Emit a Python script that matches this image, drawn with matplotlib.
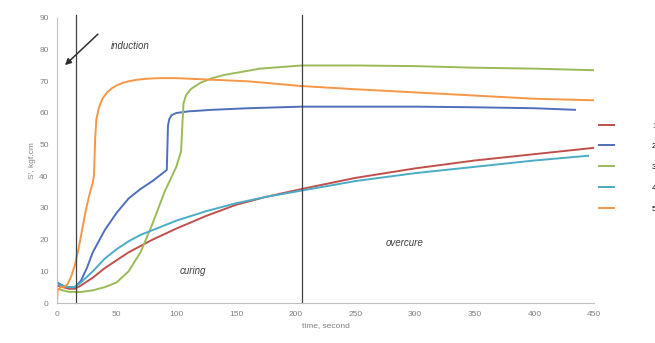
import matplotlib
matplotlib.use("Agg")
import matplotlib.pyplot as plt

plt.rcParams['font.family'] = ['Liberation Sans', 'DejaVu Sans']

# torque curves
red_x = [0, 5, 10, 15, 20, 30, 40, 50, 60, 70, 80, 100, 125, 150, 175, 205, 250, 300, 350, 400, 450]
red_y = [5.5, 5, 4.5, 4.5, 5.5, 8, 11, 13.5, 16, 18, 20, 23.5, 27.5, 31, 33.5, 36, 39.5, 42.5, 45, 47, 49]

blue_x = [0, 5, 10, 15, 20, 25, 30, 40, 50, 60, 70, 80, 92, 93, 94, 96, 100, 110, 130, 160, 205, 250, 300, 350, 400, 434]
blue_y = [6.5, 5.5, 5, 5, 7, 11, 16, 23, 28.5, 33, 36, 38.5, 42, 56, 58, 59.3, 60, 60.5, 61, 61.5, 62, 62, 62, 61.8, 61.5, 61]

green_x = [0, 5, 10, 15, 20, 30, 40, 50, 60, 70, 80, 90, 100, 104, 105, 106, 108, 112, 120, 130, 140, 155, 170, 205, 250, 300, 350, 400, 450]
green_y = [4.5, 4, 3.5, 3.5, 3.5, 4, 5, 6.5, 10, 16, 25, 35, 43, 48, 56, 63, 65.5, 67.5, 69.5, 71, 72, 73, 74, 75, 75, 74.8, 74.3, 74, 73.5]

cyan_x = [0, 5, 10, 15, 20, 30, 40, 50, 60, 70, 80, 100, 125, 150, 175, 205, 250, 300, 350, 400, 445]
cyan_y = [6, 5.5, 5, 5, 6.5, 10, 14, 17, 19.5, 21.5, 23, 26, 29, 31.5, 33.5, 35.5, 38.5, 41, 43, 45, 46.5]

orange_x = [0, 0.5, 3, 6, 9, 12, 15, 18, 21, 24, 27, 30, 31, 32, 33, 35, 38, 42, 46, 50, 55, 60, 67, 75, 85, 100, 130, 160, 205, 250, 300, 350, 400, 450]
orange_y = [0, 4, 5, 5, 6, 8.5, 12, 17, 23, 29, 34, 38, 40.5, 52, 58, 61.5, 64.5, 66.5, 67.8, 68.7, 69.5, 70, 70.5, 70.8, 71, 71, 70.5, 70, 68.5, 67.5, 66.5, 65.5, 64.5, 64]

labels = ["1", "2", "3", "4", "5"]
x_ticks = [0, 50, 100, 150, 200, 250, 300, 350, 400, 450]
y_ticks = [0, 10, 20, 30, 40, 50, 60, 70, 80, 90]

fig = plt.figure(figsize=(6.55, 3.43), dpi=100)
ax = fig.add_axes([0.087, 0.1166, 0.82, 0.831])

series = [(red_x, red_y, '#C0504D'), (blue_x, blue_y, '#4F6FBD'), (green_x, green_y, '#9BBB59'),
          (cyan_x, cyan_y, '#4BACC6'), (orange_x, orange_y, '#F79646')]
for (xs, ys, c), lab in zip(series, labels):
    ax.plot(xs, ys, color=c, linewidth=1.4, label=lab)

# stage boundaries
ax.axvline(16, color='#404040', linewidth=0.9, ymax=1.01, clip_on=False)
ax.axvline(205, color='#404040', linewidth=0.9, ymax=1.01, clip_on=False)

ax.annotate('', xy=(5, 74.5), xytext=(36, 85.5),
            arrowprops=dict(arrowstyle='-|>', color='#303030', lw=1.1, mutation_scale=9))
ax.text(45, 81, 'induction', fontsize=7, style='italic', color='#404040', va='center')
ax.text(103, 10, 'curing', fontsize=7, style='italic', color='#404040', va='center')
ax.text(275, 19, 'overcure', fontsize=7, style='italic', color='#404040', va='center')

ax.set_xlim(0, 450)
ax.set_ylim(0, 90)
ax.set_xticks(x_ticks)
ax.set_yticks(y_ticks)
ax.tick_params(length=0, labelsize=6, colors='#808080', pad=6)
for s in ['top', 'right']:
    ax.spines[s].set_visible(False)
for s in ['left', 'bottom']:
    ax.spines[s].set_color('#BFBFBF')
    ax.spines[s].set_linewidth(0.8)

ax.set_xlabel('time, second', fontsize=6, color='#808080', labelpad=3)
ax.set_ylabel("S', kgf.cm", fontsize=6, color='#808080', labelpad=2)

# legend text runs off the right edge, as in the original
fig.legend(loc='upper left', bbox_to_anchor=(0.909, 0.655), frameon=False, fontsize=6,
           handlelength=1.8, labelspacing=1.55, handletextpad=4.6, borderaxespad=0)

fig.savefig('out.png', dpi=100)
